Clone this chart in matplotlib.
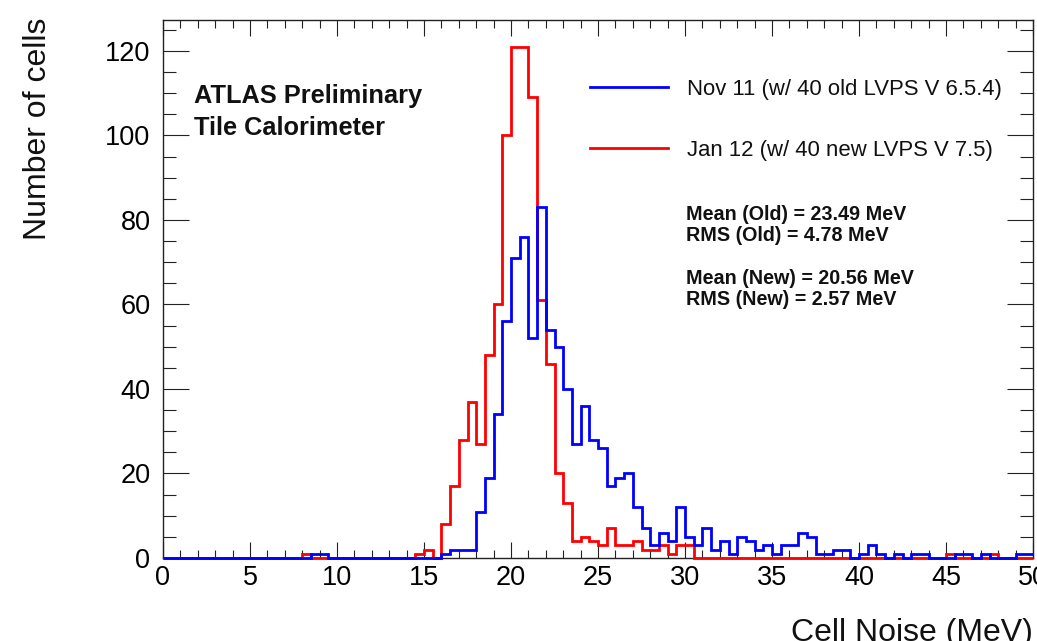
import numpy as np
import matplotlib
matplotlib.use("Agg")
import matplotlib.pyplot as plt
from matplotlib.ticker import MultipleLocator

# ---------------- data ----------------
x_min, x_max, bin_width = 0.0, 50.0, 0.5

# Nov 11 (old LVPS) counts per 0.5 MeV bin, 100 bins from 0 to 50 MeV
counts_old = ([0] * 17 + [1, 1] + [0] * 13 +
              [1, 2, 2, 2, 11, 19, 34, 56, 71, 76, 52, 83, 54, 50, 40, 27,
               36, 28, 26, 17, 19, 20, 12, 7, 3, 6, 4, 12, 5, 3, 7, 2,
               4, 1, 5, 4, 2, 3, 1, 3, 3, 6, 5, 1, 1, 2, 2, 0,
               1, 3, 1, 0, 1, 0, 1, 1, 0, 0, 0, 1, 1, 0, 1, 0,
               0, 0, 1, 1])

# Jan 12 (new LVPS) counts
counts_new = ([0] * 16 + [1] + [0] * 12 +
              [1, 2, 0, 8, 17, 28, 37, 27, 48, 60, 100, 121, 121, 109, 61, 46,
               20, 13, 4, 5, 4, 3, 7, 3, 3, 4, 2, 2, 3, 1, 3, 3] +
              [0] * 29 + [1, 0, 0, 0, 0, 1, 0, 0, 0, 0])

label_old = "Nov 11 (w/ 40 old LVPS V 6.5.4)"
label_new = "Jan 12 (w/ 40 new LVPS V 7.5)"
stats_lines = ["Mean (Old) = 23.49 MeV", "RMS (Old) = 4.78 MeV",
               "Mean (New) = 20.56 MeV", "RMS (New) = 2.57 MeV"]
x_ticks = list(range(0, 51, 5))
y_ticks = list(range(0, 121, 20))

# ---------------- figure ----------------
plt.rcParams['font.family'] = ['Liberation Sans', 'DejaVu Sans']
W, H = 1037, 641
fig = plt.figure(figsize=(W / 100, H / 100), dpi=100)
L, R, T, B = 163, 1033, 20, 558
ax = fig.add_axes([L / W, 1 - B / H, (R - L) / W, (B - T) / H])

edges = np.arange(x_min, x_max + bin_width / 2, bin_width)
ax.stairs(counts_new, edges, color='#ff0000', lw=2.0, baseline=None,
          zorder=3, clip_on=False)
ax.stairs(counts_old, edges, color='#0000ff', lw=2.0, baseline=None,
          zorder=4, clip_on=False)

ax.set_xlim(x_min, x_max)
ax.set_ylim(0, 127.3)

ax.set_xticks(x_ticks)
ax.set_yticks(y_ticks)
ax.xaxis.set_minor_locator(MultipleLocator(1))
ax.yaxis.set_minor_locator(MultipleLocator(5))
ax.tick_params(which='both', direction='in', top=True, right=True,
               width=0.8, color='#222222')
ax.tick_params(axis='x', which='major', length=11.5, labelsize=19.5, pad=5)
ax.tick_params(axis='x', which='minor', length=5.8)
ax.tick_params(axis='y', which='major', length=18.5, labelsize=19.5, pad=9)
ax.tick_params(axis='y', which='minor', length=9.4)
for s in ax.spines.values():
    s.set_linewidth(1.0)
    s.set_color('#222222')


def ax_xy(px, py):
    return (px - L) / (R - L), (B - py) / (B - T)


# legend
for (py, col, lab) in [(86.7, '#0000ff', label_old), (148.3, '#ff0000', label_new)]:
    x0, y0 = ax_xy(590, py)
    x1, _ = ax_xy(668, py)
    ax.plot([x0, x1], [y0, y0], color=col, lw=2.0, transform=ax.transAxes)
    tx, ty = ax_xy(687, py + 7.9)
    ax.text(tx, ty, lab, transform=ax.transAxes, fontsize=15.9,
            ha='left', va='baseline', color='#111111')

# stats
for py, txt in zip([220, 241, 284, 305], stats_lines):
    tx, ty = ax_xy(686, py)
    ax.text(tx, ty, txt, transform=ax.transAxes, fontsize=14.2,
            fontweight='bold', ha='left', va='baseline', color='#111111')

# ATLAS label
for py, txt in zip([103, 135], ["ATLAS Preliminary", "Tile Calorimeter"]):
    tx, ty = ax_xy(194, py)
    ax.text(tx, ty, txt, transform=ax.transAxes, fontsize=18.3,
            fontweight='bold', ha='left', va='baseline', color='#111111')

# axis titles
fig.text(R / W, 0.0, "Cell Noise (MeV)", fontsize=23,
         ha='right', va='baseline', color='#111111')
fig.text(38 / W, 1 - 18 / H, "Number of cells", fontsize=23, rotation=90,
         ha='center', va='top', color='#111111')

fig.savefig("out.png", dpi=100)
